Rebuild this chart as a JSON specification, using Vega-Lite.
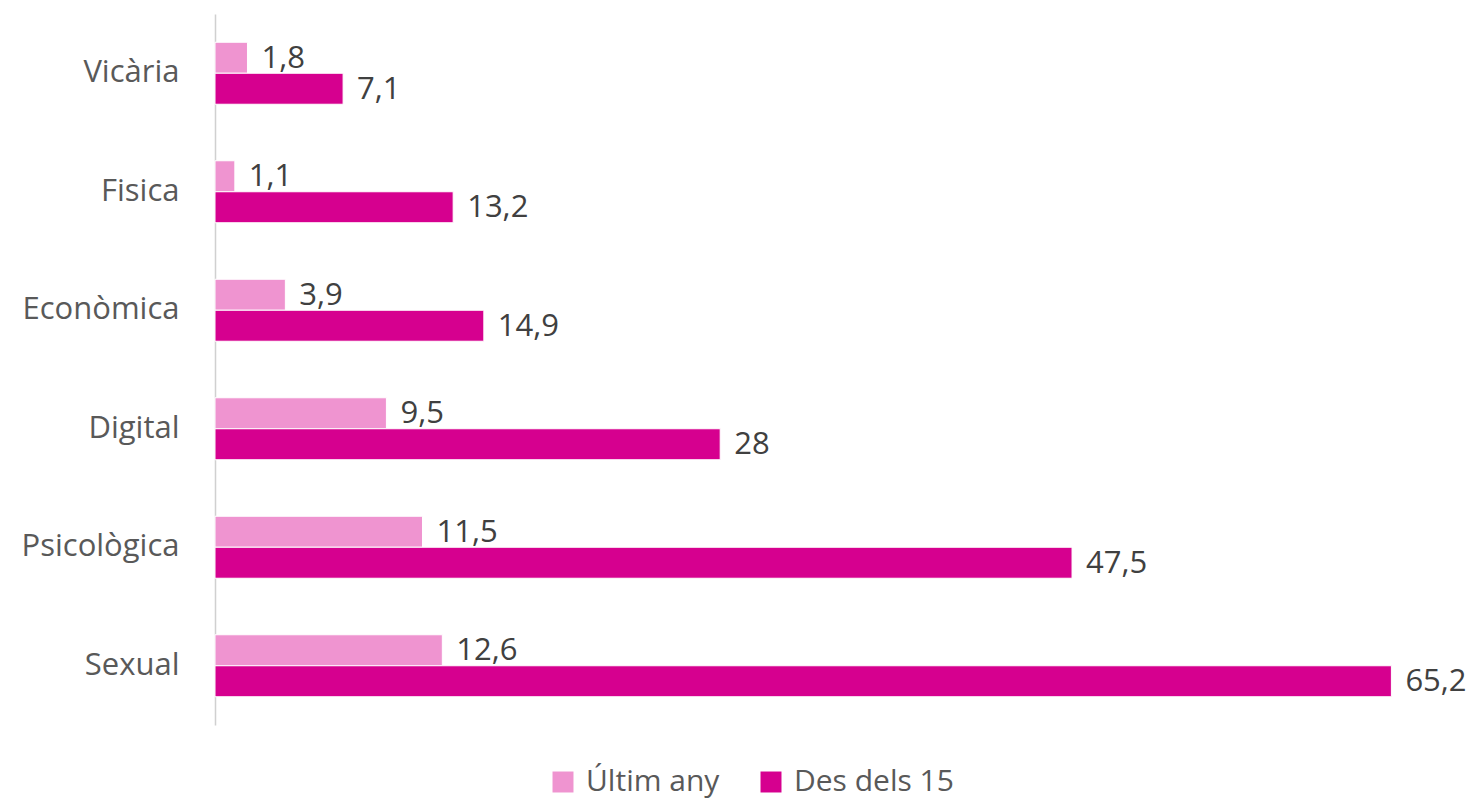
{
  "$schema": "https://vega.github.io/schema/vega-lite/v6.json",
  "autosize": {"type": "none"},
  "width": 1263,
  "height": 711,
  "padding": {"left": 215, "top": 14, "right": 0, "bottom": 77},
  "background": "white",
  "data": {
    "values": [
      {"tipus": "Vicària", "serie": "Últim any", "valor": 1.8, "etiqueta": "1,8"},
      {"tipus": "Vicària", "serie": "Des dels 15", "valor": 7.1, "etiqueta": "7,1"},
      {"tipus": "Fisica", "serie": "Últim any", "valor": 1.1, "etiqueta": "1,1"},
      {"tipus": "Fisica", "serie": "Des dels 15", "valor": 13.2, "etiqueta": "13,2"},
      {"tipus": "Econòmica", "serie": "Últim any", "valor": 3.9, "etiqueta": "3,9"},
      {"tipus": "Econòmica", "serie": "Des dels 15", "valor": 14.9, "etiqueta": "14,9"},
      {"tipus": "Digital", "serie": "Últim any", "valor": 9.5, "etiqueta": "9,5"},
      {"tipus": "Digital", "serie": "Des dels 15", "valor": 28, "etiqueta": "28"},
      {"tipus": "Psicològica", "serie": "Últim any", "valor": 11.5, "etiqueta": "11,5"},
      {"tipus": "Psicològica", "serie": "Des dels 15", "valor": 47.5, "etiqueta": "47,5"},
      {"tipus": "Sexual", "serie": "Últim any", "valor": 12.6, "etiqueta": "12,6"},
      {"tipus": "Sexual", "serie": "Des dels 15", "valor": 65.2, "etiqueta": "65,2"}
    ]
  },
  "encoding": {
    "y": {
      "field": "tipus",
      "type": "nominal",
      "sort": ["Vicària", "Fisica", "Econòmica", "Digital", "Psicològica", "Sexual"],
      "scale": {"paddingInner": 0.477, "paddingOuter": 0.2385},
      "axis": {
        "title": null,
        "ticks": false,
        "labelFont": "Open Sans",
        "labelFontSize": 31,
        "labelColor": "#595959",
        "labelPadding": 36,
        "labelLimit": 400,
        "domainColor": "#D0D0D0",
        "domainWidth": 1.5,
        "grid": false
      }
    },
    "yOffset": {
      "field": "serie",
      "type": "nominal",
      "sort": ["Últim any", "Des dels 15"],
      "scale": {"paddingInner": 0, "paddingOuter": 0}
    },
    "x": {
      "field": "valor",
      "type": "quantitative",
      "scale": {"domain": [0, 70], "nice": false},
      "axis": null
    }
  },
  "layer": [
    {
      "mark": {"type": "bar", "stroke": "white", "strokeWidth": 1},
      "encoding": {
        "color": {
          "field": "serie",
          "type": "nominal",
          "sort": ["Últim any", "Des dels 15"],
          "scale": {"domain": ["Últim any", "Des dels 15"], "range": ["#EF94D0", "#D6008F"]},
          "legend": {
            "title": null,
            "orient": "none",
            "direction": "horizontal",
            "legendX": 333,
            "legendY": 753,
            "symbolType": "square",
            "symbolSize": 440,
            "symbolStrokeWidth": 0,
            "labelFont": "Open Sans",
            "labelFontSize": 30,
            "labelColor": "#595959",
            "labelOffset": 8,
            "labelLimit": 400,
            "columnPadding": 36,
            "padding": 0
          }
        }
      }
    },
    {
      "mark": {
        "type": "text",
        "align": "left",
        "baseline": "middle",
        "dx": 14,
        "dy": 1,
        "font": "Open Sans",
        "fontSize": 31,
        "color": "#404040"
      },
      "encoding": {
        "text": {"field": "etiqueta", "type": "nominal"}
      }
    }
  ],
  "config": {
    "view": {"stroke": null}
  }
}
